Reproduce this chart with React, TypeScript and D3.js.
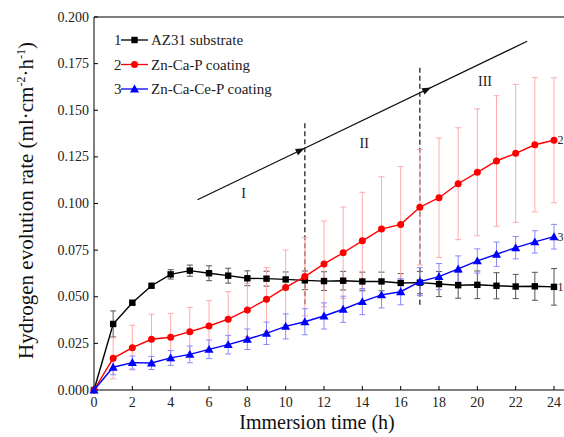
import * as d3 from 'd3';

const hours = d3.range(0, 25);

const az31 = [0, 0.0354, 0.0468, 0.0559, 0.062, 0.064, 0.0626, 0.0613, 0.0599, 0.0597, 0.0593, 0.0588, 0.0584,
  0.0586, 0.0582, 0.0582, 0.0574, 0.0576, 0.0568, 0.0562, 0.0564, 0.0559, 0.0555, 0.0556, 0.0553];
const az31Err = [0, 0.007, 0.001, 0.001, 0.0025, 0.003, 0.004, 0.004, 0.004, 0.004, 0.004, 0.005, 0.005,
  0.005, 0.005, 0.005, 0.005, 0.006, 0.0067, 0.007, 0.0074, 0.007, 0.0065, 0.0075, 0.0098];

const znCaP = [0, 0.017, 0.0227, 0.0272, 0.0283, 0.0313, 0.0343, 0.038, 0.0429, 0.0486, 0.055, 0.0608, 0.0676,
  0.0736, 0.08, 0.0863, 0.0888, 0.098, 0.1031, 0.1106, 0.1167, 0.1228, 0.1269, 0.1315, 0.1339];
const znCaPErr = [0, 0.011, 0.012, 0.0134, 0.0128, 0.013, 0.0136, 0.0147, 0.0143, 0.017, 0.02, 0.021, 0.023,
  0.0245, 0.026, 0.028, 0.031, 0.031, 0.032, 0.03, 0.034, 0.035, 0.037, 0.036, 0.0335];

const znCaCeP = [0, 0.0122, 0.0147, 0.0145, 0.0172, 0.0191, 0.0218, 0.0243, 0.0272, 0.0304, 0.0341, 0.0366, 0.0397,
  0.0433, 0.0474, 0.051, 0.0527, 0.0581, 0.0608, 0.0649, 0.0692, 0.0728, 0.0763, 0.0794, 0.0822];
const znCaCePErr = [0, 0.004, 0.0035, 0.0035, 0.004, 0.0045, 0.005, 0.005, 0.0055, 0.006, 0.0067, 0.007, 0.007,
  0.007, 0.007, 0.007, 0.007, 0.0075, 0.007, 0.007, 0.0065, 0.0065, 0.006, 0.006, 0.0066];

const xTicks = d3.range(0, 25, 2);
const yTicks = d3.range(0, 0.2001, 0.025);

// trend arrow and stage separators (data units)
const trend = [[5.4, 0.102], [22.6, 0.187]];
const trendArrows = [10.8, 17.4];
const stages = [11, 17];
const stageLabels = [{ t: 'I', x: 7.8, y: 0.103 }, { t: 'II', x: 14.1, y: 0.130 }, { t: 'III', x: 20.4, y: 0.163 }];

const series = [
  { key: '1', name: 'AZ31 substrate', vals: az31, err: az31Err, color: '#000', errColor: '#555', shape: 'square' },
  { key: '2', name: 'Zn-Ca-P coating', vals: znCaP, err: znCaPErr, color: '#ff0000', errColor: '#ffaaaa', shape: 'circle' },
  { key: '3', name: 'Zn-Ca-Ce-P coating', vals: znCaCeP, err: znCaCePErr, color: '#0000ff', errColor: '#8888ff', shape: 'triangle' },
];

const W = 564;
const H = 437;
const m = { top: 17, left: 94, right: 10, bottom: 47 };
const font = '"Liberation Serif", "Times New Roman", serif';

function Marker({ shape, x, y, color }: { shape: string; x: number; y: number; color: string }) {
  if (shape === 'square') return <rect x={x - 3.2} y={y - 3.2} width={6.4} height={6.4} fill={color} />;
  if (shape === 'circle') return <circle cx={x} cy={y} r={3.5} fill={color} />;
  return <path d={d3.symbol(d3.symbolTriangle, 36)()!} transform={`translate(${x},${y + 0.8})`} fill={color} />;
}

export default function App() {
  const x = d3.scaleLinear().domain([0, 24]).range([m.left, 554]);
  const y = d3.scaleLinear().domain([0, 0.2]).range([H - 47, m.top]);
  const line = d3.line<number>().x((_, i) => x(hours[i])).y((d) => y(d));

  const tx = (t: number) => x(t);
  const ty = (t: number) => {
    const [[x0, y0], [x1, y1]] = trend;
    return y(y0 + ((t - x0) / (x1 - x0)) * (y1 - y0));
  };
  const ang = (Math.atan2(ty(trend[1][0]) - ty(trend[0][0]), tx(trend[1][0]) - tx(trend[0][0])) * 180) / Math.PI;

  return (
    <svg width={W} height={H} style={{ position: 'absolute', left: 0, top: 0, background: '#fff' }} fontFamily={font}>
      {/* frame */}
      <line x1={m.left} x2={W + 5} y1={m.top} y2={m.top} stroke="#000" strokeWidth={1} />
      <line x1={m.left} x2={W + 5} y1={y(0)} y2={y(0)} stroke="#000" strokeWidth={1} />
      <line x1={m.left} x2={m.left} y1={m.top} y2={y(0)} stroke="#000" strokeWidth={1} />

      {xTicks.map((t) => (
        <g key={'x' + t}>
          <line x1={x(t)} x2={x(t)} y1={y(0)} y2={y(0) - 4} stroke="#000" />
          <text x={x(t)} y={y(0) + 17} textAnchor="middle" fontSize={14} fontFamily={font} fill="#222">{t}</text>
        </g>
      ))}
      {yTicks.map((t) => (
        <g key={'y' + t}>
          <line x1={m.left} x2={m.left + 4} y1={y(t)} y2={y(t)} stroke="#000" />
          <text x={m.left - 5} y={y(t) + 4.5} textAnchor="end" fontSize={14} fontFamily={font} fill="#222">{t.toFixed(3)}</text>
        </g>
      ))}

      <text x={317} y={429} textAnchor="middle" fontSize={20} fontFamily={font} fill="#111">Immersion time (h)</text>
      <text transform={`translate(33,${(m.top + y(0)) / 2 - 3}) rotate(-90)`} textAnchor="middle" fontSize={21} fontFamily={font} fill="#111">
        Hydrogen evolution rate (ml·cm
        <tspan fontSize={12} dy={-8}>-2</tspan>
        <tspan dy={8}>·h</tspan>
        <tspan fontSize={12} dy={-8}>-1</tspan>
        <tspan dy={8}>)</tspan>
      </text>

      {/* stage annotations */}
      <line x1={tx(trend[0][0])} y1={ty(trend[0][0])} x2={tx(trend[1][0])} y2={ty(trend[1][0])} stroke="#111" strokeWidth={1.3} />
      {trendArrows.map((t) => (
        <path key={'a' + t} d="M4,0 L-5,-3.5 L-5,3.5 Z" fill="#111" transform={`translate(${tx(t)},${ty(t)}) rotate(${ang})`} />
      ))}
      {stages.map((s) => (
        <line key={'s' + s} x1={x(s)} x2={x(s)} y1={ty(s) - 25} y2={y(0.045)} stroke="#222" strokeWidth={1.3} strokeDasharray="5,3" />
      ))}
      {stageLabels.map((l) => (
        <text key={l.t} x={x(l.x)} y={y(l.y)} textAnchor="middle" fontSize={14} fontFamily={font} fill="#222">{l.t}</text>
      ))}

      {series.map((s) => (
        <g key={'e' + s.key}>
          {s.vals.map((v, i) =>
            s.err[i] > 0 ? (
              <g key={i} stroke={s.errColor} strokeWidth={1}>
                <line x1={x(hours[i])} x2={x(hours[i])} y1={y(v - s.err[i])} y2={y(v + s.err[i])} />
                <line x1={x(hours[i]) - 3} x2={x(hours[i]) + 3} y1={y(v - s.err[i])} y2={y(v - s.err[i])} />
                <line x1={x(hours[i]) - 3} x2={x(hours[i]) + 3} y1={y(v + s.err[i])} y2={y(v + s.err[i])} />
              </g>
            ) : null
          )}
        </g>
      ))}
      {series.map((s) => (
        <g key={'l' + s.key}>
          <path d={line(s.vals)!} fill="none" stroke={s.color} strokeWidth={1.4} />
          {s.vals.map((v, i) => (
            <Marker key={i} shape={s.shape} x={x(hours[i])} y={y(v)} color={s.color} />
          ))}
          <text x={x(24) + 3.5} y={y(s.vals[24]) + 4} fontSize={12} fontFamily={font} fill="#222">{s.key}</text>
        </g>
      ))}

      {/* legend */}
      {series.map((s, i) => {
        const ly = 40 + i * 24.5;
        return (
          <g key={'lg' + s.key}>
            <text x={114} y={ly + 5} fontSize={15} fontFamily={font} fill="#222">{s.key}</text>
            <line x1={121} x2={148} y1={ly} y2={ly} stroke={s.color} strokeWidth={1.3} />
            <Marker shape={s.shape} x={134.5} y={ly} color={s.color} />
            <text x={151} y={ly + 5} fontSize={15} fontFamily={font} fill="#222">{s.name}</text>
          </g>
        );
      })}
    </svg>
  );
}
